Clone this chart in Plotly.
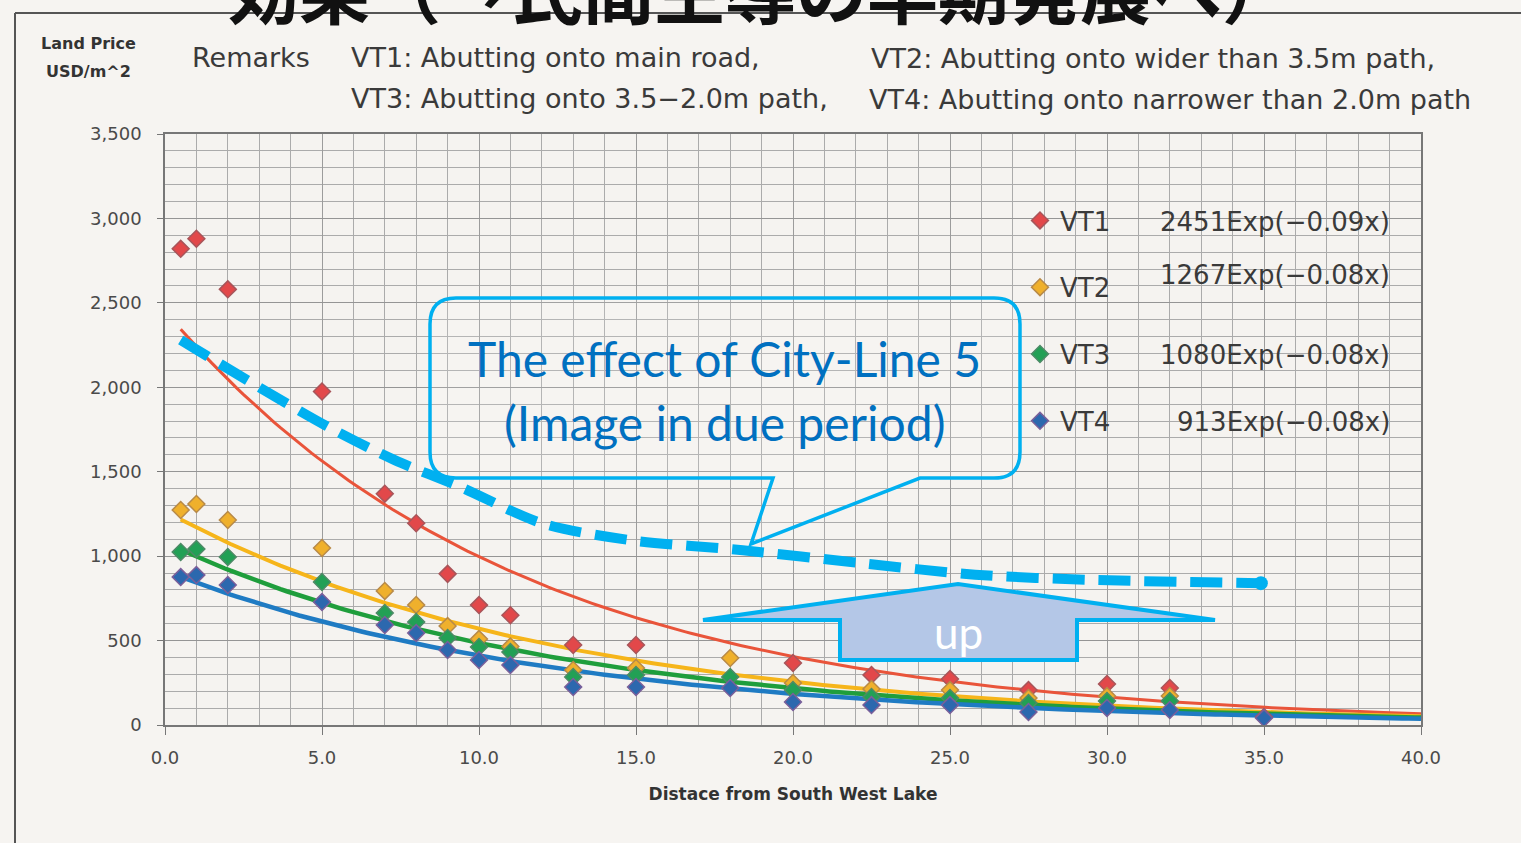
import numpy as np
import plotly.graph_objects as go

# ---------------- data ----------------
distance = [0.5, 1, 2, 5, 7, 8, 9, 10, 11, 13, 15, 18, 20, 22.5, 25, 27.5, 30, 32, 35]
vt1 = [2820, 2880, 2580, 1975, 1370, 1195, 895, 710, 650, 474, 474, None, 367, 296, 272, 207, 243, 219, 48]
vt2 = [1273, 1309, 1214, 1048, 794, 711, 586, 509, 465, 326, 338, 397, 249, 213, 207, 160, 172, 172, None]
vt3 = [1025, 1042, 995, 847, 663, 610, 515, 462, 432, 284, 296, 284, 207, 166, 160, 130, 142, 142, None]
vt4 = [876, 888, 829, 728, 592, 545, 444, 385, 355, 225, 225, 219, 136, 118, 118, 77, 101, 89, 41]

series_names = ["VT1", "VT2", "VT3", "VT4"]
# trend-line equations printed on the chart: a*Exp(b*x)
fit_a = [2451, 1267, 1080, 913]
fit_b = [-0.09, -0.08, -0.08, -0.08]
fit_labels = ["2451Exp(−0.09x)", "1267Exp(−0.08x)", "1080Exp(−0.08x)", "913Exp(−0.08x)"]
fit_x_start, fit_x_end = 0.5, 40

# hand-drawn "City-Line 5" expectation curve
city_line5_x = [0.5, 3.0, 5.2, 7.3, 9.4, 12.0, 14.8, 18.4, 22.1, 25.8, 29.4, 34.9]
city_line5_y = [2280, 2000, 1765, 1570, 1410, 1195, 1095, 1035, 960, 890, 860, 840]

x_ticks = [0, 5, 10, 15, 20, 25, 30, 35, 40]
y_ticks = [0, 500, 1000, 1500, 2000, 2500, 3000, 3500]

remarks = [
    "VT1: Abutting onto main road,",
    "VT2: Abutting onto wider than 3.5m path,",
    "VT3: Abutting onto 3.5−2.0m path,",
    "VT4: Abutting onto narrower than 2.0m path",
]

# ---------------- styles ----------------
line_colors = ["#e9543a", "#f6b51a", "#1f9e3c", "#1f7bc3"]
line_widths = [3, 4, 4.5, 4.5]
marker_fill = ["#e2484a", "#efb02c", "#22a055", "#2c68ae"]
marker_edge = ["#a8555a", "#b88a48", "#4d8a66", "#7a5f9a"]

W, H = 1521, 843
L0, R0, T0, B0 = 165, 1421, 134, 725


def px(x):
    return (x - L0) / (R0 - L0)


def py(y):
    return (B0 - y) / (B0 - T0)


def P(x, y):
    return f"{px(x):.5f},{py(y):.5f}"


fig = go.Figure()

series_vals = [vt1, vt2, vt3, vt4]
xf = np.linspace(fit_x_start, fit_x_end, 200)
for i, name in enumerate(series_names):
    fig.add_trace(go.Scatter(
        x=xf, y=fit_a[i] * np.exp(fit_b[i] * xf), mode="lines",
        line=dict(color=line_colors[i], width=line_widths[i]),
        showlegend=False, hoverinfo="skip"))

for i, name in enumerate(series_names):
    fig.add_trace(go.Scatter(
        x=distance, y=series_vals[i], mode="markers", name=name,
        legendgroup=name,
        marker=dict(symbol="diamond", size=13, color=marker_fill[i],
                    line=dict(color=marker_edge[i], width=1.5))))

fig.add_trace(go.Scatter(
    x=city_line5_x, y=city_line5_y, mode="lines",
    line=dict(color="#00b0f0", width=10, dash="32px,14px", shape="spline", smoothing=0.8),
    showlegend=False, hoverinfo="skip"))
fig.add_trace(go.Scatter(
    x=city_line5_x[-1:], y=city_line5_y[-1:], mode="markers",
    marker=dict(symbol="circle", size=14, color="#00b0f0"),
    showlegend=False, hoverinfo="skip"))

tick_font = dict(family="DejaVu Sans", size=18, color="#4a4a4a")
fig.update_xaxes(
    range=[0, 40], tickvals=x_ticks, tickformat=".1f", tickfont=tick_font,
    ticks="outside", ticklen=8, tickcolor="#777", ticklabelstandoff=8,
    showgrid=True, gridcolor="#9c9c9c", gridwidth=1,
    minor=dict(dtick=1, showgrid=True, gridcolor="#ababab", gridwidth=1),
    showline=True, linecolor="#777", linewidth=1.5, mirror=True, zeroline=False,
    title=dict(text="Distace from South West Lake",
               font=dict(family="DejaVu Sans", size=17, color="#333", weight="bold"),
               standoff=21),
)
fig.update_yaxes(
    range=[0, 3500], tickvals=y_ticks, tickformat=",d", tickfont=tick_font,
    ticks="outside", ticklen=6, tickcolor="#777", ticklabelstandoff=12,
    showgrid=True, gridcolor="#959595", gridwidth=1,
    minor=dict(dtick=100, showgrid=True, gridcolor="#ababab", gridwidth=1),
    showline=True, linecolor="#777", linewidth=1.5, mirror=True, zeroline=False,
)

shapes = []
# scan frame lines
shapes.append(dict(type="line", xref="paper", yref="paper", x0=px(15), y0=py(13), x1=px(1521), y1=py(13),
                   line=dict(color="#555", width=2)))
shapes.append(dict(type="line", xref="paper", yref="paper", x0=px(15), y0=py(13), x1=px(15), y1=py(843),
                   line=dict(color="#555", width=2)))
# callout box with tail
Lb, Rb, Tb, Bb, r = 430, 1020, 298, 478, 26
callout = (f"M {P(Lb + r, Tb)} L {P(Rb - r, Tb)} Q {P(Rb, Tb)} {P(Rb, Tb + r)} "
           f"L {P(Rb, Bb - r)} Q {P(Rb, Bb)} {P(Rb - r, Bb)} L {P(920, Bb)} L {P(751, 544)} "
           f"L {P(773, Bb)} L {P(Lb + r, Bb)} Q {P(Lb, Bb)} {P(Lb, Bb - r)} "
           f"L {P(Lb, Tb + r)} Q {P(Lb, Tb)} {P(Lb + r, Tb)} Z")
shapes.append(dict(type="path", xref="paper", yref="paper", path=callout, layer="above",
                   fillcolor="rgba(255,255,255,0.12)", line=dict(color="#00b0f0", width=3.5)))
# up arrow
arrow = (f"M {P(703, 620)} L {P(958, 584)} L {P(1215, 620)} L {P(1077, 620)} "
         f"L {P(1077, 660)} L {P(840, 660)} L {P(840, 620)} Z")
shapes.append(dict(type="path", xref="paper", yref="paper", path=arrow, layer="above",
                   fillcolor="#b4c7e7", line=dict(color="#00b0f0", width=4)))

ann = []
hdr_font = dict(family="DejaVu Sans", size=27, color="#3a3a3a")
ann.append(dict(text="効果（→民間主導の早期発展へ）", x=px(760), y=py(-13), xref="paper", yref="paper",
                xanchor="center", yanchor="middle", showarrow=False,
                font=dict(family="Noto Sans CJK JP", size=71, color="#111", weight="bold")))
ann.append(dict(text="Land Price", x=px(88), y=py(43), xref="paper", yref="paper", showarrow=False,
                xanchor="center", yanchor="middle",
                font=dict(family="DejaVu Sans", size=16, color="#333", weight="bold")))
ann.append(dict(text="USD/m^2", x=px(88), y=py(71), xref="paper", yref="paper", showarrow=False,
                xanchor="center", yanchor="middle",
                font=dict(family="DejaVu Sans", size=16, color="#333", weight="bold")))
ann.append(dict(text="Remarks", x=px(190), y=py(57), xref="paper", yref="paper", showarrow=False,
                xanchor="left", yanchor="middle", font=hdr_font))
rem_pos = [(349, 57), (869, 59), (349, 98), (867, 99)]
for t, (xx, yy) in zip(remarks, rem_pos):
    ann.append(dict(text=t, x=px(xx), y=py(yy), xref="paper", yref="paper", showarrow=False,
                    xanchor="left", yanchor="middle", font=hdr_font))
eq_y = [222, 275, 355, 422]
for t, yy in zip(fit_labels, eq_y):
    ann.append(dict(text=t, x=px(1392), y=py(yy), xref="paper", yref="paper", showarrow=False,
                    xanchor="right", yanchor="middle",
                    font=dict(family="DejaVu Sans", size=26, color="#3a3a3a")))
call_font = dict(family="Lato", size=48, color="#0070c0")
ann.append(dict(text="The effect of City-Line 5", x=px(724), y=py(358), xref="paper", yref="paper",
                showarrow=False, xanchor="center", yanchor="middle", font=call_font))
ann.append(dict(text="(Image in due period)", x=px(724), y=py(422), xref="paper", yref="paper",
                showarrow=False, xanchor="center", yanchor="middle", font=call_font))
ann.append(dict(text="up", x=px(958), y=py(632), xref="paper", yref="paper",
                showarrow=False, xanchor="center", yanchor="middle",
                font=dict(family="Lato", size=44, color="#ffffff")))

fig.update_layout(
    width=W, height=H, autosize=False,
    margin=dict(l=L0, r=W - R0, t=T0, b=H - B0, pad=0),
    paper_bgcolor="#f6f4f1", plot_bgcolor="#f5f3f0",
    shapes=shapes, annotations=ann,
    legend=dict(x=px(1020), y=py(197), xanchor="left", yanchor="top",
                bgcolor="rgba(0,0,0,0)", tracegroupgap=30,
                font=dict(family="DejaVu Sans", size=26, color="#3a3a3a")),
    showlegend=True,
)

fig.write_html("out.html", config={"displayModeBar": False},
               post_script="document.body.style.margin='0px';")
